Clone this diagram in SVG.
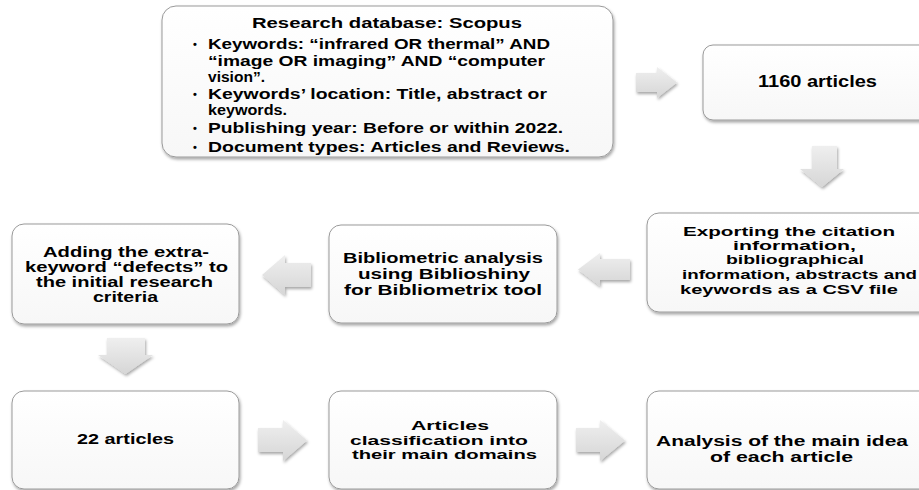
<svg xmlns="http://www.w3.org/2000/svg" width="919" height="490" viewBox="0 0 919 490">
<defs>
<filter id="sh" x="-10%" y="-10%" width="130%" height="130%">
<feDropShadow dx="1" dy="2" stdDeviation="1.5" flood-color="#000" flood-opacity="0.35"/>
</filter>
<linearGradient id="bg" x1="0" y1="0" x2="0" y2="1">
<stop offset="0" stop-color="#ffffff"/>
<stop offset="1" stop-color="#f7f7f7"/>
</linearGradient>
<linearGradient id="ag" x1="0" y1="0" x2="0" y2="1">
<stop offset="0" stop-color="#efefef"/>
<stop offset="1" stop-color="#d6d6d6"/>
</linearGradient>
</defs>
<style>
.box{fill:url(#bg);stroke:#9a9a9a;stroke-width:1;filter:url(#sh)}
.arr{fill:url(#ag);filter:url(#sh)}
text{font-family:"Liberation Sans",Arial,sans-serif;font-weight:bold;font-size:14px;fill:#000}
.s{font-size:13px}
.b{font-size:11px}
</style>
<rect width="919" height="490" fill="#fff"/>
<g id="connectors">
<path class="arr" d="M636,73 H657 V67 L677,82.5 L657,98 V92 H636 Z"/>
<path class="arr" d="M812,146 H837 V169 H844 L822,187 L800,169 H812 Z"/>
<path class="arr" d="M630,259 H600 V253 L578,269.5 L600,286 V280 H630 Z"/>
<path class="arr" d="M311,263 H285 V255 L262,275 L285,295 V287 H311 Z"/>
<path class="arr" d="M107,338 H145 V355 H153 L125.5,374 L98,355 H107 Z"/>
<path class="arr" d="M258,428 H283 V420 L307,440.5 L283,461 V452 H258 Z"/>
<path class="arr" d="M576,428 H600 V420 L625,440.5 L600,461 V452 H576 Z"/>
</g>
<g id="n1">
<rect class="box" x="162" y="6" width="451" height="151" rx="14"/>
<text x="252" y="27.5" textLength="270" lengthAdjust="spacingAndGlyphs" style="font-size:15px">Research database: Scopus</text>
<text class="b" x="193" y="48">•</text>
<text x="208" y="49" textLength="342" lengthAdjust="spacingAndGlyphs">Keywords: “infrared OR thermal” AND</text>
<text x="208" y="66" textLength="337" lengthAdjust="spacingAndGlyphs">“image OR imaging” AND “computer</text>
<text x="208" y="82" textLength="57" lengthAdjust="spacingAndGlyphs">vision”.</text>
<text class="b" x="193" y="98">•</text>
<text x="208" y="99" textLength="339" lengthAdjust="spacingAndGlyphs">Keywords’ location: Title, abstract or</text>
<text x="208" y="115" textLength="79" lengthAdjust="spacingAndGlyphs">keywords.</text>
<text class="b" x="193" y="132">•</text>
<text x="208" y="133" textLength="355" lengthAdjust="spacingAndGlyphs">Publishing year: Before or within 2022.</text>
<text class="b" x="193" y="150.5">•</text>
<text x="208" y="151.5" textLength="362" lengthAdjust="spacingAndGlyphs">Document types: Articles and Reviews.</text>
</g>
<g id="n2">
<rect class="box" x="703" y="45" width="240" height="75" rx="10"/>
<text x="758" y="87" textLength="119" lengthAdjust="spacingAndGlyphs" style="font-size:16px">1160 articles</text>
</g>
<g id="n3">
<rect class="box" x="647" y="213" width="290" height="99" rx="12"/>
<text class="s" x="683" y="236" textLength="212" lengthAdjust="spacingAndGlyphs">Exporting  the citation</text>
<text class="s" x="733" y="250" textLength="123" lengthAdjust="spacingAndGlyphs">information,</text>
<text class="s" x="726" y="264" textLength="138" lengthAdjust="spacingAndGlyphs">bibliographical</text>
<text class="s" x="682" y="279" textLength="235" lengthAdjust="spacingAndGlyphs">information, abstracts and</text>
<text class="s" x="680" y="294" textLength="218" lengthAdjust="spacingAndGlyphs">keywords as a CSV file</text>
</g>
<g id="n4">
<rect class="box" x="329" y="225" width="228" height="98" rx="12"/>
<text x="343" y="263" textLength="200" lengthAdjust="spacingAndGlyphs">Bibliometric  analysis</text>
<text x="358" y="279" textLength="172" lengthAdjust="spacingAndGlyphs">using  Biblioshiny</text>
<text x="344" y="295" textLength="198" lengthAdjust="spacingAndGlyphs">for Bibliometrix  tool</text>
</g>
<g id="n5">
<rect class="box" x="12" y="224" width="227" height="100" rx="12"/>
<text x="43" y="257" textLength="166" lengthAdjust="spacingAndGlyphs">Adding the extra-</text>
<text x="25" y="272" textLength="203" lengthAdjust="spacingAndGlyphs">keyword “defects” to</text>
<text x="36" y="287" textLength="177" lengthAdjust="spacingAndGlyphs">the initial research</text>
<text x="93" y="302" textLength="65" lengthAdjust="spacingAndGlyphs">criteria</text>
</g>
<g id="n6">
<rect class="box" x="12" y="391" width="227" height="98" rx="12"/>
<text x="77" y="444" textLength="97" lengthAdjust="spacingAndGlyphs" style="font-size:15px">22 articles</text>
</g>
<g id="n7">
<rect class="box" x="329" y="391" width="228" height="98" rx="12"/>
<text class="s" x="411" y="430" textLength="78" lengthAdjust="spacingAndGlyphs">Articles</text>
<text class="s" x="350" y="444.5" textLength="178" lengthAdjust="spacingAndGlyphs">classification into</text>
<text class="s" x="352" y="459" textLength="185" lengthAdjust="spacingAndGlyphs">their main domains</text>
</g>
<g id="n8">
<rect class="box" x="647" y="391" width="290" height="98" rx="12"/>
<text x="656" y="446" textLength="252" lengthAdjust="spacingAndGlyphs">Analysis of the main idea</text>
<text x="710" y="462" textLength="143" lengthAdjust="spacingAndGlyphs">of each article</text>
</g>
</svg>
